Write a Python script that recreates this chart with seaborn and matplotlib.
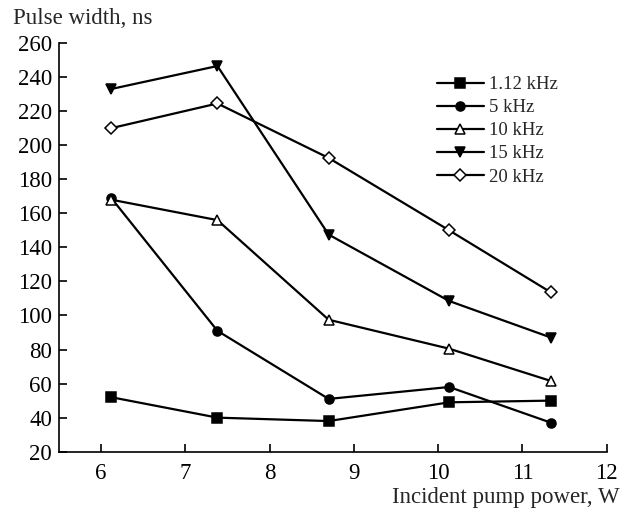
import matplotlib
matplotlib.use("Agg")
import matplotlib.pyplot as plt
import seaborn as sns
import pandas as pd

power = [6.12, 7.38, 8.70, 10.13, 11.34]
labels = ["1.12 kHz", "5 kHz", "10 kHz", "15 kHz", "20 kHz"]
w_112 = [52, 40, 38, 49, 50]
w_5 = [169, 91, 51, 58, 37]
w_10 = [168, 156, 97.5, 80.5, 61.5]
w_15 = [233, 246.5, 147.5, 108.5, 87]
w_20 = [210, 224.5, 192.5, 150, 113.5]
series = [w_112, w_5, w_10, w_15, w_20]
x_ticks = [6, 7, 8, 9, 10, 11, 12]
y_ticks = list(range(20, 261, 20))

markers = ["s", "o", "^", "v", "D"]
filled = [True, True, False, True, False]
msizes = [6.5, 6.5, 7, 7, 6]

sns.set_style("ticks")
plt.rcParams["font.family"] = ["Liberation Serif", "DejaVu Serif"]

fig = plt.figure(figsize=(6.29, 5.14), dpi=100)
ax = fig.add_axes([0.0938, 0.1212, 0.8708, 0.7951])

for lab, vals, m, f, ms in zip(labels, series, markers, filled, msizes):
    df = pd.DataFrame({"x": power, "y": vals})
    sns.lineplot(data=df, x="x", y="y", ax=ax, color="black", linewidth=1.6,
                 marker=m, markersize=ms, markerfacecolor="black" if f else "white",
                 markeredgecolor="black", markeredgewidth=1.1, label=lab)

ax.set_xlim(5.5, 12)
ax.set_ylim(20, 260)
ax.set_xticks(x_ticks)
ax.set_yticks(y_ticks)
ax.tick_params(direction="in", length=6, width=1.2, labelsize=16.5, colors="black")
ax.tick_params(axis="y", pad=5)
ax.tick_params(axis="x", pad=8)
for s in ["top", "right"]:
    ax.spines[s].set_visible(False)
for s in ["left", "bottom"]:
    ax.spines[s].set_linewidth(1.2)
    ax.spines[s].set_color("black")
ax.set_xlabel("")
ax.set_ylabel("")

fig.text(13 / 629, 1 - 18 / 514, "Pulse width, ns", fontsize=16.5, ha="left", va="center")
fig.text(620 / 629, 1 - 497 / 514, "Incident pump power, W", fontsize=16.5, ha="right", va="center")

leg = ax.legend(loc="upper left", bbox_to_anchor=(437 / 629, 1 - 76 / 514),
                bbox_transform=fig.transFigure, frameon=False, fontsize=13.5,
                handlelength=2.5, handletextpad=0.25, labelspacing=0.32,
                borderaxespad=0, borderpad=0)

fig.savefig("out.png", dpi=100)
